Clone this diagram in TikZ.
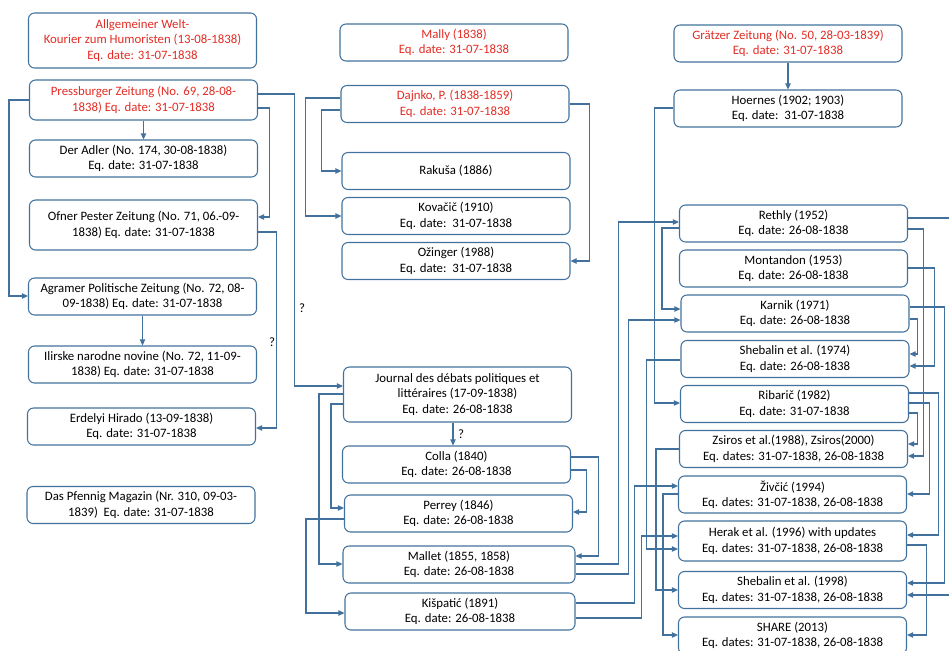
\documentclass[tikz,border=0pt]{standalone}
\usepackage{fontspec}
\setmainfont{Carlito}
\usepackage{xcolor}
\usepackage{tikz}
\usetikzlibrary{arrows.meta}
\definecolor{linkblue}{RGB}{65,113,156}
\definecolor{redtxt}{RGB}{226,44,36}

\begin{document}
\begin{tikzpicture}[x=0.75pt,y=-0.75pt,
  font=\fontsize{9.6}{11.5}\selectfont,
  box/.style={draw=linkblue,line width=0.8pt,rounded corners=4.5pt,align=center,minimum width=171pt,minimum height=27.75pt,inner sep=2pt},
  redbox/.style={box,text=redtxt},
  link/.style={draw=linkblue,line width=0.8pt,-{Triangle[length=4.5pt,width=4pt]}}]
\clip (0,0) rectangle (949,650);
\node (1) at (142.5,40.5) [redbox,minimum height=41.25pt] {Allgemeiner Welt-\\Kourier zum Humoristen (13-08-1838)\\Eq. date: 31-07-1838};
\node (2) at (143.5,100) [redbox,minimum height=30pt] {Pressburger Zeitung (No. 69, 28-08-\\1838) Eq. date: 31-07-1838};
\node (3) at (143.5,158.5) [box] {Der Adler (No. 174, 30-08-1838)\\Eq. date: 31-07-1838};
\node (4) at (143.5,225) [box,minimum height=37.5pt] {Ofner Pester Zeitung (No. 71, 06.-09-\\1838) Eq. date: 31-07-1838};
\node (5) at (142.5,296.5) [box] {Agramer Politische Zeitung (No. 72, 08-\\09-1838) Eq. date: 31-07-1838};
\node (6) at (142.5,364.5) [box] {Ilirske narodne novine (No. 72, 11-09-\\1838) Eq. date: 31-07-1838};
\node (7) at (141.5,426.5) [box] {Erdelyi Hirado (13-09-1838)\\Eq. date: 31-07-1838};
\node (8) at (141,505) [box] {Das Pfennig Magazin (Nr. 310, 09-03-\\1839)~~Eq. date: 31-07-1838};
\node (9) at (454,42.5) [redbox] {Mally (1838)\\Eq. date: 31-07-1838};
\node (10) at (455,104) [redbox] {Dajnko, P. (1838-1859)\\Eq. date: 31-07-1838};
\node (11) at (456,171) [box] {Rakuša (1886)};
\node (12) at (456,216) [box] {Kovačič (1910)\\Eq. date:~~31-07-1838};
\node (13) at (456,261) [box] {Ožinger (1988)\\Eq. date:~~31-07-1838};
\node (14) at (457.5,394.5) [box,minimum height=41.25pt] {Journal des débats politiques et\\littéraires (17-09-1838)\\Eq. date: 26-08-1838};
\node (15) at (456.5,464.5) [box] {Colla (1840)\\Eq. date: 26-08-1838};
\node (16) at (458.5,513.5) [box] {Perrey (1846)\\Eq. date: 26-08-1838};
\node (17) at (459,564.5) [box,minimum width=174pt] {Mallet (1855, 1858)\\Eq. date: 26-08-1838};
\node (18) at (460,611.5) [box,minimum width=172.5pt] {Kišpatić (1891)\\Eq. date: 26-08-1838};
\node (19) at (788,43.5) [redbox] {Grätzer Zeitung (No. 50, 28-03-1839)\\Eq. date: 31-07-1838};
\node (20) at (788,108.5) [box] {Hoernes (1902; 1903)\\Eq. date:~~31-07-1838};
\node (21) at (793.5,223.5) [box] {Rethly (1952)\\Eq. date: 26-08-1838};
\node (22) at (793.5,268.5) [box] {Montandon (1953)\\Eq. date: 26-08-1838};
\node (23) at (795,313.5) [box] {Karnik (1971)\\Eq. date: 26-08-1838};
\node (24) at (795,359) [box] {Shebalin et al. (1974)\\Eq. date: 26-08-1838};
\node (25) at (794.5,404) [box] {Ribarič (1982)\\Eq. date: 31-07-1838};
\node (26) at (793.5,449) [box] {Zsiros et al.(1988), Zsiros(2000)\\Eq. dates: 31-07-1838, 26-08-1838};
\node (27) at (792.5,494.5) [box] {Živčić (1994)\\Eq. dates: 31-07-1838, 26-08-1838};
\node (28) at (792.5,541) [box,minimum height=30pt] {Herak et al. (1996) with updates\\Eq. dates: 31-07-1838, 26-08-1838};
\node (29) at (792.5,590) [box] {Shebalin et al. (1998)\\Eq. dates: 31-07-1838, 26-08-1838};
\node (30) at (792.5,635.5) [box] {SHARE (2013)\\Eq. dates: 31-07-1838, 26-08-1838};
\node (31) at (302,308) {?};
\node (32) at (272,342) {?};
\node (33) at (461,434) {?};
\draw [link] (2) -- (3);
\draw [link] (2.west |- 0,100) -- ++(-20,0) |- (5.west |- 0,296);
\draw [link] (2.east |- 0,108) -- ++(11,0) |- (4.east |- 0,217);
\draw [link] (2.east |- 0,94) -- ++(36,0) |- (14.west |- 0,386);
\draw [link] (4.east |- 0,232) -- ++(18,0) |- (7.east |- 0,428);
\draw [link] (5) -- (6);
\draw [link] (10.west |- 0,98) -- ++(-35,0) |- (12.west |- 0,216);
\draw [link] (10.west |- 0,110) -- ++(-19,0) |- (11.west |- 0,171);
\draw [link] (10.east |- 0,104) -- ++(20,0) |- (13.east |- 0,261);
\draw [link] (14.south -| 453,0) -- (15.north -| 453,0);
\draw [link] (14.west |- 0,394) -- ++(-24,0) |- (17.west |- 0,564);
\draw [link] (14.west |- 0,404) -- ++(-12,0) |- (16.west |- 0,508);
\draw [link] (15.east |- 0,457) -- ++(27,0) |- (17.east |- 0,556);
\draw [link] (15.east |- 0,470) -- ++(15,0) |- (16.east |- 0,512);
\draw [link] (16.west |- 0,519) -- ++(-38,0) |- (18.west |- 0,613);
\draw [link] (17.east |- 0,564) -- ++(43,0) |- (21.west |- 0,222);
\draw [link] (17.east |- 0,574) -- ++(53,0) |- (23.west |- 0,320);
\draw [link] (18.east |- 0,603) -- ++(59,0) |- (27.west |- 0,486);
\draw [link] (18.east |- 0,618) -- ++(66,0) |- (28.west |- 0,536);
\draw [link] (19) -- (20);
\draw [link] (20.west |- 0,108) -- ++(-19,0) |- (25.west |- 0,403);
\draw [link] (21.west |- 0,228) -- ++(-17,0) |- (23.west |- 0,309);
\draw [link] (24.west |- 0,360) -- ++(-34,0) |- (28.west |- 0,549);
\draw [link] (26.west |- 0,449) -- ++(-23,0) |- (29.west |- 0,590);
\draw [link] (27.west |- 0,494) -- ++(-15,0) |- (30.west |- 0,635);
\draw [link] (21.east |- 0,218) -- ++(60,0) |- (29.east |- 0,595);
\draw [link] (21.east |- 0,229) -- ++(15,0) |- (26.east |- 0,456);
\draw [link] (22.east |- 0,268) -- ++(26,0) |- (24.east |- 0,366);
\draw [link] (23.east |- 0,307) -- ++(35,0) |- (29.east |- 0,583);
\draw [link] (23.east |- 0,319) -- ++(8,0) |- (24.east |- 0,354);
\draw [link] (25.east |- 0,393) -- ++(29,0) |- (28.east |- 0,535);
\draw [link] (25.east |- 0,403) -- ++(20,0) |- (27.east |- 0,494);
\draw [link] (25.east |- 0,413) -- ++(8,0) |- (26.east |- 0,444);
\draw [link] (28.east |- 0,545) -- ++(19,0) |- (30.east |- 0,635);
\end{tikzpicture}
\end{document}
